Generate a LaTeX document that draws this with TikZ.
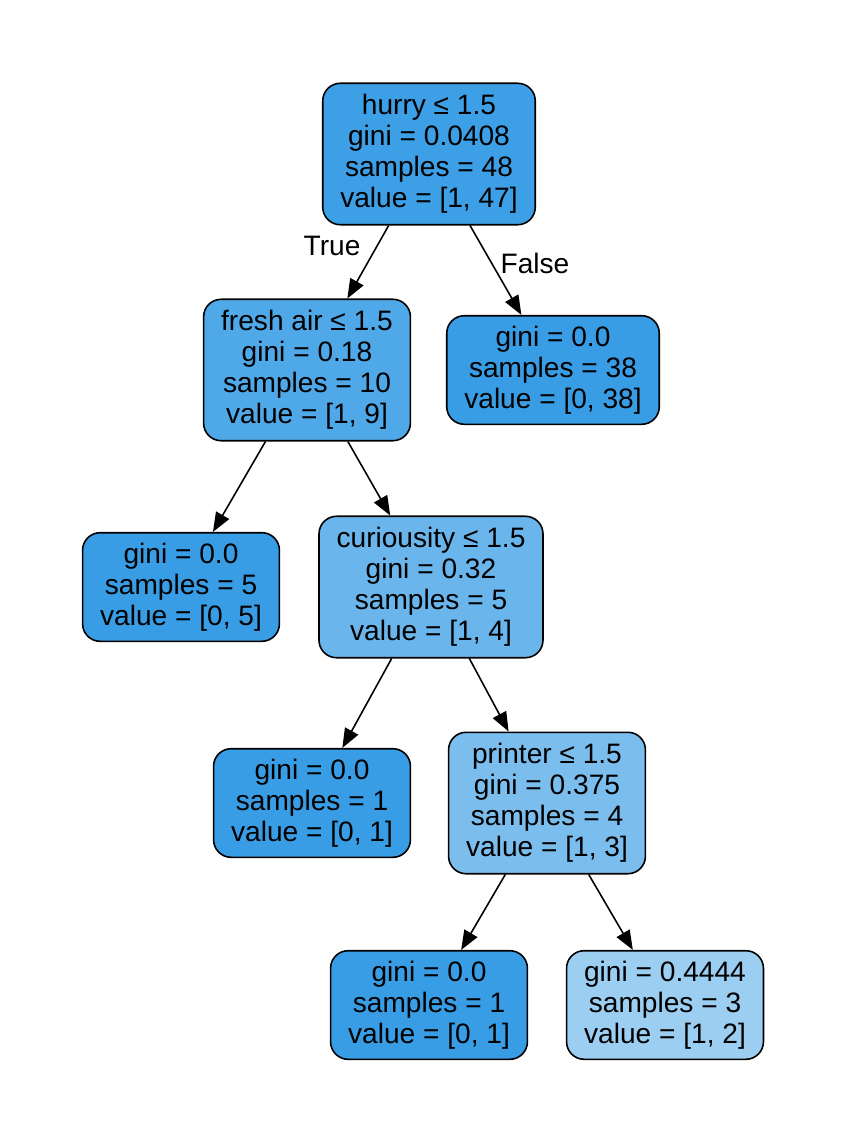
\documentclass[tikz,border=0pt]{standalone}
\usepackage{fontspec}
\setmainfont{Liberation Sans}
\usepackage{tikz}
\usetikzlibrary{arrows.meta}
\definecolor{c47}{HTML}{3D9FE6}
\definecolor{c9}{HTML}{4FA8E8}
\definecolor{c4}{HTML}{6AB6EC}
\definecolor{c3}{HTML}{7BBEEE}
\definecolor{c2}{HTML}{9CCEF2}
\definecolor{pure}{HTML}{399DE5}
\tikzset{tnode/.style={draw,rounded corners=10pt,line width=0.9pt,align=center,
    inner xsep=10pt,inner ysep=2pt,font=\fontsize{16}{17.6}\selectfont},
  split/.style={tnode,minimum height=80.5pt},
  leaf/.style={tnode,minimum height=61.8pt,fill=pure}}

\begin{document}
\begin{tikzpicture}[x=0.02cm, y=-0.02cm, >={Triangle[length=11pt,width=8.5pt]}]
  \useasboundingbox (0,0) rectangle (846,1146);
  \node[split,fill=c47] (R) at (429,154) {hurry ≤ 1.5\\gini = 0.0408\\samples = 48\\value = [1, 47]};
  \node[split,fill=c9] (F) at (307,370) {fresh air ≤ 1.5\\gini = 0.18\\samples = 10\\value = [1, 9]};
  \node[leaf] (L1) at (553,370) {gini = 0.0\\samples = 38\\value = [0, 38]};
  \node[leaf] (L2) at (181,587) {gini = 0.0\\samples = 5\\value = [0, 5]};
  \node[split,fill=c4] (C) at (431,587) {curiousity ≤ 1.5\\gini = 0.32\\samples = 5\\value = [1, 4]};
  \node[leaf] (L3) at (312,803) {gini = 0.0\\samples = 1\\value = [0, 1]};
  \node[split,fill=c3] (P) at (547,803) {printer ≤ 1.5\\gini = 0.375\\samples = 4\\value = [1, 3]};
  \node[leaf] (L4) at (429,1005) {gini = 0.0\\samples = 1\\value = [0, 1]};
  \node[leaf,fill=c2] (L5) at (665,1005) {gini = 0.4444\\samples = 3\\value = [1, 2]};

  \node[font=\fontsize{16}{17.6}\selectfont] (T) at (332,246) {True};
  \node[font=\fontsize{16}{17.6}\selectfont] (Fa) at (535,263) {False};

  \draw[->,line width=0.9pt] (R) -- (F);
  \draw[->,line width=0.9pt] (R) -- (L1);
  \draw[->,line width=0.9pt] (F) -- (L2);
  \draw[->,line width=0.9pt] (F) -- (C);
  \draw[->,line width=0.9pt] (C) -- (L3);
  \draw[->,line width=0.9pt] (C) -- (P);
  \draw[->,line width=0.9pt] (P) -- (L4);
  \draw[->,line width=0.9pt] (P) -- (L5);
\end{tikzpicture}
\end{document}
